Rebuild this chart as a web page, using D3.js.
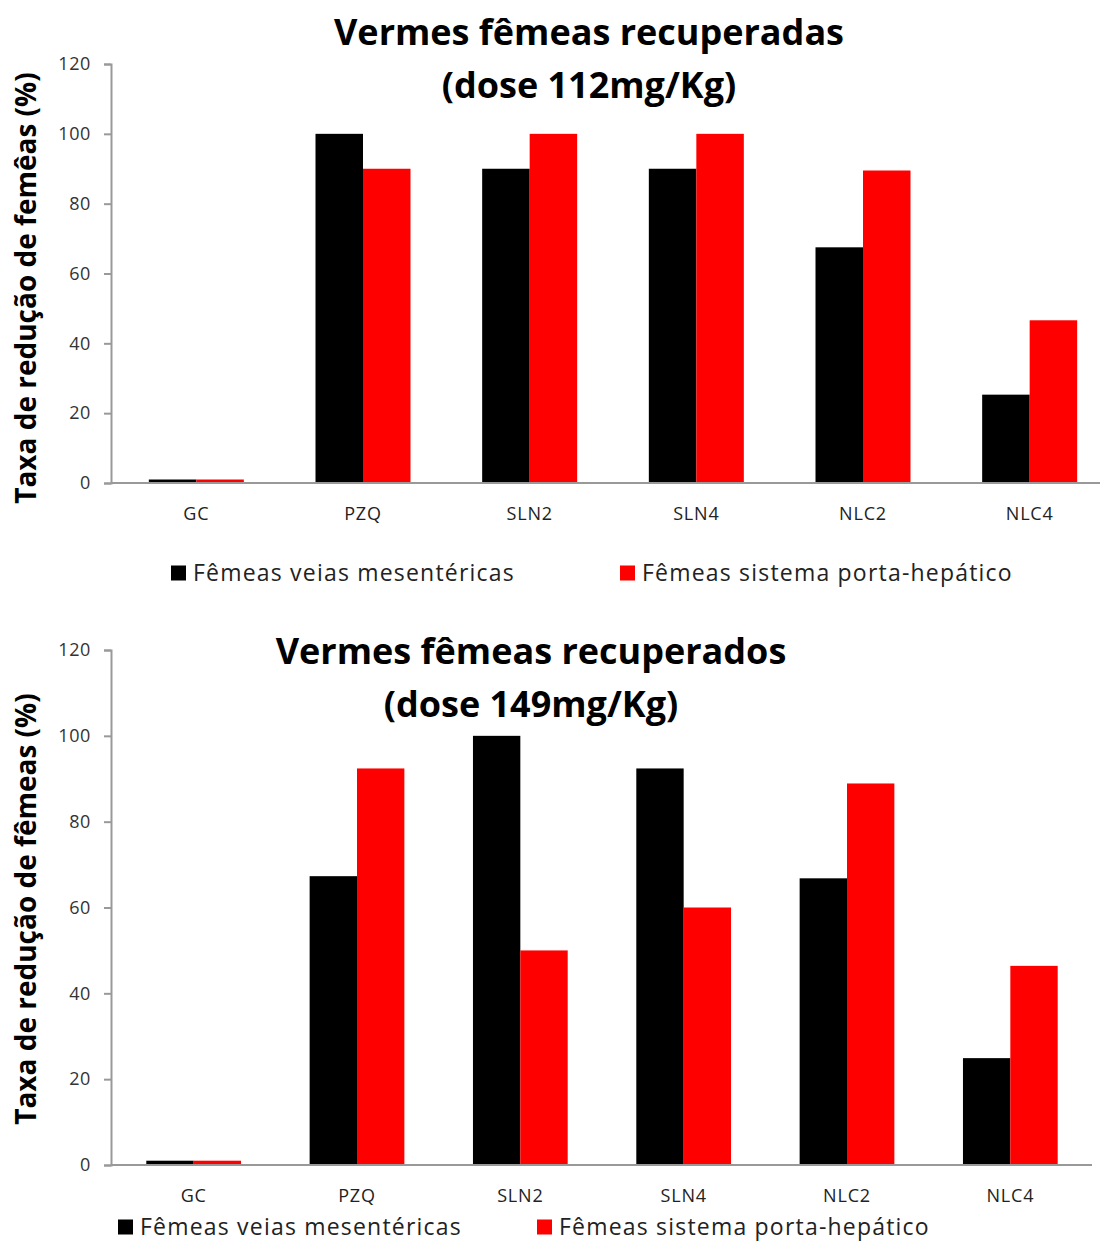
<!DOCTYPE html>
<html>
<head>
<meta charset="utf-8">
<script src="https://cdn.jsdelivr.net/npm/d3@7"></script>
<style>
  html, body { margin: 0; padding: 0; background: #fff; }
  svg { display: block; }
  text { font-family: "Open Sans", "Noto Sans", sans-serif; }
</style>
</head>
<body>
<svg id="chart" width="1100" height="1245"></svg>
<script>
// ---- Data ----
const categories = ["GC", "PZQ", "SLN2", "SLN4", "NLC2", "NLC4"];
const seriesNames = ["Fêmeas veias mesentéricas", "Fêmeas sistema porta-hepático"];
const seriesColors = ["#000000", "#ff0000"];
const yTicks = [0, 20, 40, 60, 80, 100, 120];

// dose 112 mg/Kg
const mesentericas112 = [1, 100, 90, 90, 67.5, 25.3];
const portaHepatico112 = [1, 90, 100, 100, 89.5, 46.6];
// dose 149 mg/Kg
const mesentericas149 = [1, 67.3, 100, 92.4, 66.8, 24.9];
const portaHepatico149 = [1, 92.4, 50, 60, 88.9, 46.4];

const titleTop = ["Vermes fêmeas recuperadas", "(dose 112mg/Kg)"];
const titleBottom = ["Vermes fêmeas recuperados", "(dose 149mg/Kg)"];
const yLabelTop = "Taxa de redução de femêas (%)";
const yLabelBottom = "Taxa de redução de fêmeas (%)";

const svg = d3.select("#chart");

function drawPanel(cfg) {
  const g = svg.append("g");
  const y = d3.scaleLinear().domain([0, 120]).range([cfg.y0, cfg.y120]);
  const x = d3.scaleBand().domain(categories).range([cfg.xStart, cfg.xEnd])
    .paddingInner(cfg.pad).paddingOuter(cfg.pad / 2);
  const xs = d3.scaleBand().domain([0, 1]).range([0, x.bandwidth()]);

  // bars
  const rows = categories.map((c, i) => ({ c, v: [cfg.s0[i], cfg.s1[i]] }));
  const grp = g.selectAll("g.cat").data(rows).join("g")
    .attr("transform", d => `translate(${x(d.c)},0)`);
  grp.selectAll("rect").data(d => d.v.map((v, k) => ({ v, k }))).join("rect")
    .attr("x", d => xs(d.k))
    .attr("width", xs.bandwidth())
    .attr("y", d => y(d.v))
    .attr("height", d => y(0) - y(d.v))
    .attr("fill", d => seriesColors[d.k]);

  // y axis
  const yAxis = d3.axisLeft(y).tickValues(yTicks).tickSize(7).tickPadding(13);
  const ya = g.append("g").attr("transform", `translate(${cfg.axisX},0)`).call(yAxis);
  ya.select(".domain").attr("stroke", "#999").attr("stroke-width", 2);
  ya.selectAll(".tick line").attr("stroke", "#999").attr("stroke-width", 2);
  ya.selectAll(".tick text").attr("font-size", 18).attr("fill", "#333")
    .attr("letter-spacing", 0.6)
    .attr("font-family", "'Open Sans', sans-serif");

  // x axis
  const xAxis = d3.axisBottom(x).tickSize(0).tickPadding(24);
  const xa = g.append("g").attr("transform", `translate(0,${cfg.y0})`).call(xAxis);
  xa.select(".domain").attr("stroke", "#999").attr("stroke-width", 2)
    .attr("d", `M${cfg.axisX},0H${cfg.xEnd}`);
  xa.selectAll(".tick text").attr("font-size", 18).attr("fill", "#222")
    .attr("letter-spacing", 0.8)
    .attr("font-family", "'Open Sans', sans-serif");

  // title
  const t = g.append("text").attr("text-anchor", "middle")
    .attr("font-weight", "bold").attr("font-size", 36).attr("fill", "#000");
  t.append("tspan").attr("x", cfg.titleX).attr("y", cfg.titleY).text(cfg.title[0]);
  t.append("tspan").attr("x", cfg.titleX).attr("y", cfg.titleY + 53).text(cfg.title[1]);

  // y label
  g.append("text")
    .attr("transform", `translate(${cfg.yLabelX},${cfg.yLabelY}) rotate(-90)`)
    .attr("text-anchor", "middle")
    .attr("font-weight", "bold").attr("font-size", 28).attr("fill", "#000")
    .text(cfg.yLabel);

  // legend
  cfg.legend.forEach((L, k) => {
    g.append("rect").attr("x", L.x).attr("y", L.y - 7.5).attr("width", 15).attr("height", 15)
      .attr("fill", seriesColors[k]);
    g.append("text").attr("x", L.x + 22).attr("y", L.y).attr("dy", "0.35em")
      .attr("font-size", 23).attr("letter-spacing", 1.2).attr("fill", "#222").text(seriesNames[k]);
  });
}

drawPanel({
  s0: mesentericas112, s1: portaHepatico112,
  y0: 483, y120: 64, xStart: 113, xEnd: 1113, pad: 0.43, axisX: 111,
  title: titleTop, titleX: 589, titleY: 45,
  yLabel: yLabelTop, yLabelX: 36, yLabelY: 288,
  legend: [{ x: 171, y: 573 }, { x: 620, y: 573 }]
});

drawPanel({
  s0: mesentericas149, s1: portaHepatico149,
  y0: 1165, y120: 650, xStart: 112, xEnd: 1092, pad: 0.42, axisX: 111,
  title: titleBottom, titleX: 531, titleY: 664,
  yLabel: yLabelBottom, yLabelX: 36, yLabelY: 909,
  legend: [{ x: 118, y: 1227 }, { x: 537, y: 1227 }]
});
</script>
</body>
</html>
